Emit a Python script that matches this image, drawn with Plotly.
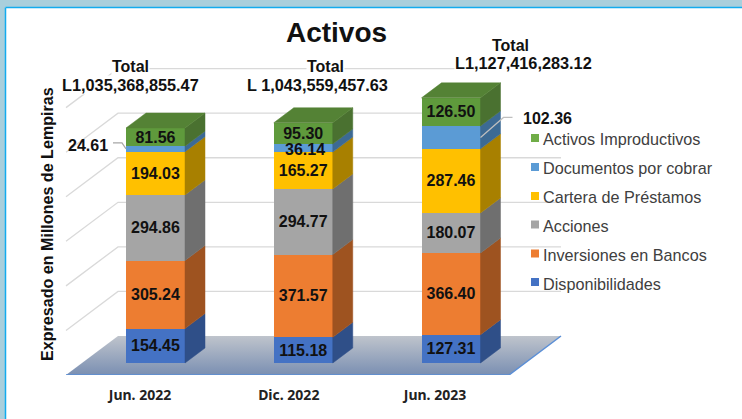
import plotly.graph_objects as go

categories = ["Jun. 2022", "Dic. 2022", "Jun. 2023"]
series_names = ["Disponibilidades", "Inversiones en Bancos", "Acciones",
                "Cartera de Préstamos", "Documentos por cobrar", "Activos Improductivos"]
disponibilidades = [154.45, 115.18, 127.31]
inversiones = [305.24, 371.57, 366.40]
acciones = [294.86, 294.77, 180.07]
cartera = [194.03, 165.27, 287.46]
documentos = [24.61, 36.14, 102.36]
improductivos = [81.56, 95.30, 126.50]
grid_values = [0, 200, 400, 600, 800, 1000, 1200]
total_labels = ["L1,035,368,855.47", "L 1,043,559,457.63", "L1,127,416,283.12"]

series_values = [disponibilidades, inversiones, acciones, cartera, documentos, improductivos]
front = ["#4472C4", "#ED7D31", "#A5A5A5", "#FFC000", "#5B9BD5", "#5F9A3C"]
side = ["#2F4F88", "#9E5320", "#6F6F6F", "#A88000", "#3C6A94", "#4A7130"]
top_green = "#548235"
legend_cols = ["#70AD47", "#5B9BD5", "#FFC000", "#A5A5A5", "#ED7D31", "#4472C4"]

W, H = 742, 419
PLOT_H = 375
X0, XS = 155.5, 147.75      # pixel of category 0, pixels per category
Y0, YS = 363.0, 0.2228      # pixel of value 0, pixels per unit
XR = [-X0 / XS, (W - X0) / XS]
YR = [(Y0 - PLOT_H) / YS, Y0 / YS]

def dx(px):
    return px / XS

def dy(px):
    return px / YS

def px_x(p):
    return (p - X0) / XS

def px_y(p):
    return (Y0 - p) / YS

half = dx(29.5)
depth_x, depth_y = dx(20), dy(15)
wall_x, wall_y = dx(52), dy(39)
floor_left, floor_right = px_x(66), px_x(509)
floor_front = px_y(375)

fig = go.Figure()

# floor
fig.add_trace(go.Scatter(
    x=[floor_left, floor_right, floor_right + wall_x, floor_left + wall_x, floor_left],
    y=[floor_front, floor_front, floor_front + wall_y, floor_front + wall_y, floor_front],
    mode="lines", line=dict(width=0), fill="toself", showlegend=False, hoverinfo="skip",
    fillgradient=dict(type="vertical", colorscale=[[0, "#7A8FB2"], [1, "#BFC4CC"]]),
))
fig.add_trace(go.Scatter(
    x=[floor_left, floor_right, floor_right + wall_x],
    y=[floor_front, floor_front, floor_front + wall_y],
    mode="lines", line=dict(color="#5B8FD6", width=1.5), showlegend=False, hoverinfo="skip",
))

# wall gridlines
for g in grid_values:
    base = floor_front + wall_y + g
    if g == 0:
        continue
    right = 2.1 if g >= 1000 else floor_right + wall_x
    fig.add_trace(go.Scatter(
        x=[floor_left, floor_left + wall_x, right],
        y=[floor_front + g, base, base],
        mode="lines", line=dict(color="#D9D9D9", width=1.3),
        showlegend=False, hoverinfo="skip",
    ))

# front faces
outside = {(0, 4), (1, 4), (2, 4)}
for s, (name, vals) in enumerate(zip(series_names, series_values)):
    text = ["" if (i, s) in outside else f"{v:.2f}" for i, v in enumerate(vals)]
    fig.add_trace(go.Bar(
        x=list(range(3)), y=vals, width=2 * half, name=name, xaxis="x2", yaxis="y2",
        marker=dict(color=front[s], line=dict(width=0)), text=text, textposition="inside",
        insidetextanchor="middle", textangle=0, constraintext="none",
        textfont=dict(family="Liberation Sans", size=16, color="#111111", weight="bold"),
        showlegend=False,
    ))

# side and top faces
cum = [[0.0, 0.0, 0.0]]
for vals in series_values:
    cum.append([a + b for a, b in zip(cum[-1], vals)])
for s in range(len(series_values)):
    xs, ys = [], []
    for i in range(3):
        c0, c1 = cum[s][i], cum[s + 1][i]
        r = i + half
        xs += [r, r + depth_x, r + depth_x, r, r, None]
        ys += [c0, c0 + depth_y, c1 + depth_y, c1, c0, None]
    fig.add_trace(go.Scatter(x=xs, y=ys, xaxis="x2", yaxis="y2", mode="lines",
                             line=dict(width=0.5, color=side[s]), fill="toself", fillcolor=side[s],
                             showlegend=False, hoverinfo="skip"))
xs, ys = [], []
for i in range(3):
    c = cum[-1][i]
    l, r = i - half, i + half
    xs += [l, r, r + depth_x, l + depth_x, l, None]
    ys += [c, c, c + depth_y, c + depth_y, c, None]
fig.add_trace(go.Scatter(x=xs, y=ys, xaxis="x2", yaxis="y2", mode="lines",
                         line=dict(width=0.5, color=top_green), fill="toself", fillcolor=top_green,
                         showlegend=False, hoverinfo="skip"))

# leader lines
mid0 = (cum[4][0] + cum[5][0]) / 2
fig.add_trace(go.Scatter(
    x=[0 - half, 0 - half - dx(4), 0 - half - dx(13)],
    y=[mid0, mid0 + dy(6), mid0 + dy(6)],
    xaxis="x2", yaxis="y2", mode="lines", line=dict(color="#A6A6A6", width=1.2),
    showlegend=False, hoverinfo="skip"))
mid2 = (cum[4][2] + cum[5][2]) / 2
fig.add_trace(go.Scatter(
    x=[2 + half, 2 + half + dx(23), 2 + half + dx(32)],
    y=[mid2, mid2 + dy(20), mid2 + dy(20)],
    xaxis="x2", yaxis="y2", mode="lines", line=dict(color="#BFBFBF", width=1.2),
    showlegend=False, hoverinfo="skip"))

# legend entries: native text, with the small swatches placed beside it as shapes
for s in reversed(range(len(series_names))):
    fig.add_trace(go.Scatter(
        x=[None], y=[None], mode="markers", name=series_names[s],
        legendgroup=series_names[s],
        marker=dict(symbol="square", size=8, color="rgba(0,0,0,0)"),
    ))
swatch_rows = [138, 167, 196, 224.5, 253.5, 282]
swatches = [
    dict(type="rect", xref="paper", yref="paper", x0=531 / W, x1=539 / W,
         y0=1 - (yc + 4) / PLOT_H, y1=1 - (yc - 4) / PLOT_H,
         fillcolor=c, line=dict(width=0), layer="above")
    for yc, c in zip(swatch_rows, legend_cols)
]

def text_ann(txt, x, y, size, bg=None, family="Liberation Sans", color="#111111", bold=True, angle=0):
    fig.add_annotation(
        text=f"<b>{txt}</b>" if bold else txt,
        x=x / W, y=1 - y / PLOT_H, xref="paper", yref="paper", showarrow=False,
        xanchor="center", yanchor="middle", textangle=angle,
        font=dict(family=family, size=size, color=color), bgcolor=bg, borderpad=0,
    )

text_ann("Total", 130, 67, 16, "white")
text_ann(total_labels[0], 130, 85, 16.3, "white")
text_ann("Total", 325, 67, 16, "white")
text_ann(total_labels[1], 317, 85, 16.3, "white")
text_ann("Total", 510, 45, 16, "white")
text_ann(total_labels[2], 523, 63, 16.3, "white")
text_ann(f"{documentos[0]:.2f}", 88, 145, 16)
text_ann(f"{documentos[1]:.2f}", 305, 149, 16)
text_ann(f"{documentos[2]:.2f}", 547, 118, 16, "white")
text_ann("Expresado en Millones de Lempiras", 47, 224, 16.1, angle=-90)

fig.update_layout(
    width=W, height=H, autosize=False,
    margin=dict(l=0, r=0, t=0, b=H - PLOT_H, pad=0),
    paper_bgcolor="white", plot_bgcolor="rgba(0,0,0,0)",
    barmode="stack", hovermode=False,
    title=dict(text="<b>Activos</b>", x=336.5 / W, xanchor="center", xref="paper",
               y=1 - 32 / H, yanchor="middle", yref="container",
               font=dict(family="Liberation Sans", size=28, color="#111111")),
    xaxis=dict(range=XR, tickmode="array", tickvals=[-15.5 / XS, 1 - 14.5 / XS, 2 - 16 / XS],
               ticktext=categories, showgrid=False, zeroline=False, showline=False,
               ticks="", ticklabelstandoff=10,
               tickfont=dict(family="Noto Sans", size=14, color="#222222", weight="bold")),
    yaxis=dict(range=YR, visible=False, showgrid=False, zeroline=False),
    xaxis2=dict(range=XR, overlaying="x", visible=False),
    yaxis2=dict(range=YR, overlaying="y", visible=False),
    legend=dict(x=503 / W, y=1 - 122 / PLOT_H, xanchor="left", yanchor="top",
                bgcolor="rgba(0,0,0,0)", traceorder="grouped", tracegroupgap=4.9,
                itemwidth=30,
                font=dict(family="Liberation Sans", size=16.2, color="#404040")),
    shapes=[
        dict(type="rect", xref="paper", yref="paper", x0=0, x1=1, y0=1 - 7 / PLOT_H, y1=1,
             fillcolor="#A9CFDC", line=dict(width=0), layer="below"),
        dict(type="rect", xref="paper", yref="paper", x0=0, x1=5 / W, y0=1 - H / PLOT_H, y1=1,
             fillcolor="#A9CFDC", line=dict(width=0), layer="below"),
        dict(type="line", xref="paper", yref="paper", x0=5.5 / W, x1=1, y0=1 - 7.5 / PLOT_H, y1=1 - 7.5 / PLOT_H,
             line=dict(color="#12ABEE", width=1.5), layer="below"),
        dict(type="line", xref="paper", yref="paper", x0=5.5 / W, x1=5.5 / W, y0=1 - 7.5 / PLOT_H, y1=1 - H / PLOT_H,
             line=dict(color="#12ABEE", width=1.5), layer="below"),
    ] + swatches,
)

fig.write_html("out.html", config={"displayModeBar": False},
               post_script="document.body.style.margin='0';document.documentElement.style.overflow='hidden';")
